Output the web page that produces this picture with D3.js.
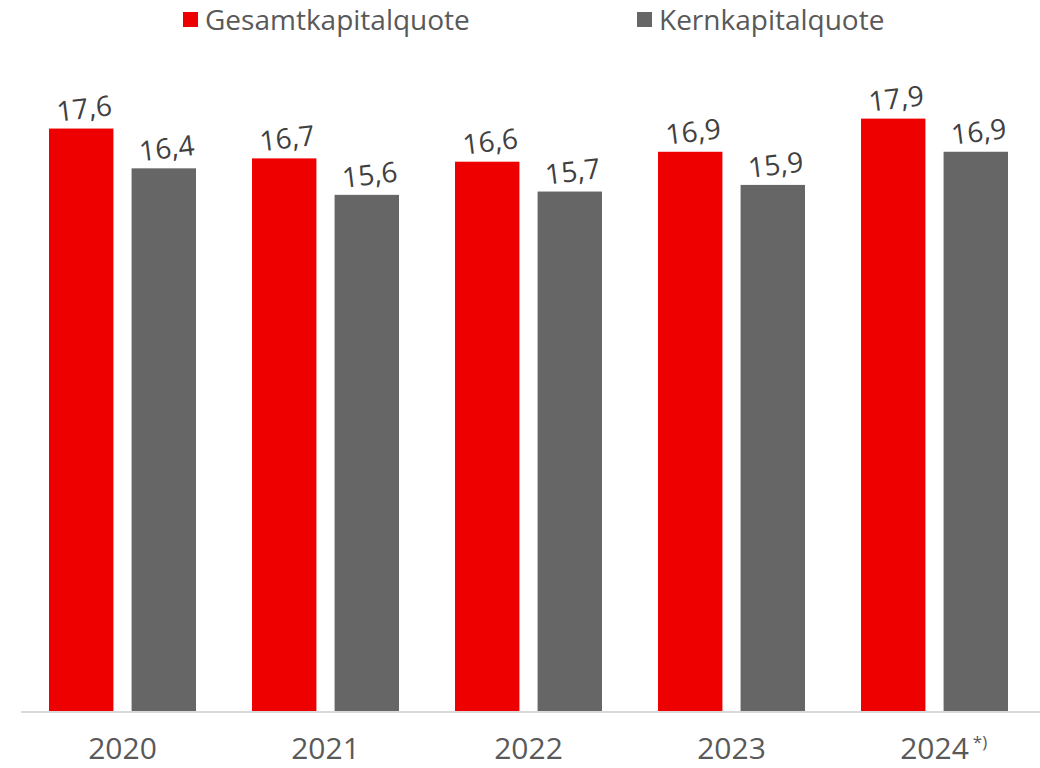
<!DOCTYPE html>
<html>
<head>
<meta charset="utf-8">
<script src="https://cdn.jsdelivr.net/npm/d3@7"></script>
<style>
  body { margin: 0; background: #fff; }
  svg text { font-family: "Open Sans", sans-serif; }
</style>
</head>
<body>
<svg id="chart" width="1040" height="768"></svg>
<script>
// data
const years = ["2020", "2021", "2022", "2023", "2024"];
const footnotes = ["", "", "", "", "*)"];
const seriesNames = ["Gesamtkapitalquote", "Kernkapitalquote"];
const gesamt = [17.6, 16.7, 16.6, 16.9, 17.9];
const kern = [16.4, 15.6, 15.7, 15.9, 16.9];
const colors = ["#ee0000", "#666666"];

const WIDTH = 1040;
const HEIGHT = 768;
const MARGIN = { left: 21, right: 4, top: 49, bottom: 56 };

const svg = d3.select("#chart");

// x scale for the year groups
const x = d3.scaleBand()
  .domain(years)
  .range([MARGIN.left, WIDTH - MARGIN.right])
  .paddingInner(0.276)
  .paddingOuter(0.138);

// inner scale for the two bars in a group
const xSub = d3.scaleBand()
  .domain(seriesNames)
  .range([0, x.bandwidth()])
  .paddingInner(0.22);

const y = d3.scaleLinear()
  .domain([0, 20])
  .range([HEIGHT - MARGIN.bottom, MARGIN.top]);

const color = d3.scaleOrdinal().domain(seriesNames).range(colors);

// build rows from the arrays
const rows = years.map((yr, i) => ({
  year: yr,
  values: [
    { key: seriesNames[0], value: gesamt[i] },
    { key: seriesNames[1], value: kern[i] }
  ]
}));

// x axis
const xAxis = svg.append("g")
  .attr("class", "xAxis")
  .attr("transform", `translate(0,${y(0)})`)
  .call(d3.axisBottom(x).tickSize(0).tickSizeOuter(0).tickPadding(26));

xAxis.select(".domain")
  .attr("stroke", "#d9d9d9")
  .attr("stroke-width", 2)
  .attr("d", `M${MARGIN.left},0H${WIDTH}`);

xAxis.selectAll("text")
  .attr("font-size", 30)
  .attr("fill", "#595959");

// footnote marks after tick labels
xAxis.selectAll(".tick").each(function (d, i) {
  if (!footnotes[i]) return;
  const t = d3.select(this).select("text");
  const w = t.node().getComputedTextLength();
  d3.select(this).append("text")
    .attr("x", w / 2 + 4)
    .attr("y", 26)
    .attr("dy", "0.6em")
    .attr("font-size", 17)
    .attr("fill", "#595959")
    .attr("text-anchor", "start")
    .text(footnotes[i]);
});

// bars
const groups = svg.append("g").selectAll("g")
  .data(rows)
  .join("g")
  .attr("transform", d => `translate(${x(d.year)},0)`);

groups.selectAll("rect")
  .data(d => d.values)
  .join("rect")
  .attr("x", d => xSub(d.key))
  .attr("y", d => y(d.value))
  .attr("width", xSub.bandwidth())
  .attr("height", d => y(0) - y(d.value) - 1)
  .attr("fill", d => color(d.key));

// value labels, slightly tilted like the original
const fmt = v => d3.format(".1f")(v).replace(".", ",");
groups.selectAll("text.val")
  .data(d => d.values)
  .join("text")
  .attr("class", "val")
  .attr("transform", d => `translate(${xSub(d.key) + xSub.bandwidth() / 2 + 3},${y(d.value) - 20}) rotate(-7)`)
  .attr("text-anchor", "middle")
  .attr("dy", "0.35em")
  .attr("font-size", 28)
  .attr("fill", "#404040")
  .text(d => fmt(d.value));

// legend
const legend = svg.append("g").attr("class", "legend");
const legendX = [183, 637];
const item = legend.selectAll("g")
  .data(seriesNames)
  .join("g")
  .attr("transform", (d, i) => `translate(${legendX[i]},12)`);

item.append("rect")
  .attr("width", 15)
  .attr("height", 15)
  .attr("fill", d => color(d));

item.append("text")
  .attr("x", 22)
  .attr("y", 8)
  .attr("dy", "0.35em")
  .attr("font-size", 28)
  .attr("fill", "#595959")
  .text(d => d);
</script>
</body>
</html>
